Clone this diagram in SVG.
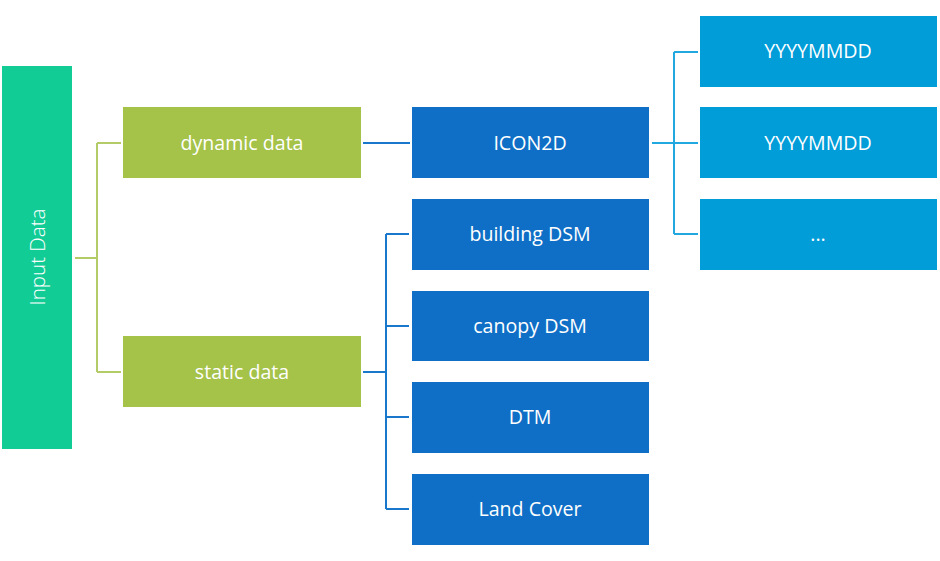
<svg xmlns="http://www.w3.org/2000/svg" width="940" height="561" viewBox="0 0 940 561">
<style>
.t{font-family:"Open Sans","Noto Sans","Liberation Sans",sans-serif;font-size:19.6px;fill:#fff;text-anchor:middle;dominant-baseline:central}
.lg{stroke:#B4CC68;stroke-width:2;fill:none}
.lb{stroke:#1A78CC;stroke-width:2;fill:none}
.lc{stroke:#22A8E0;stroke-width:2;fill:none}
.root{fill:#12CC96}
.g{fill:#A5C249}
.b{fill:#0F6FC6}
.c{fill:#009DD9}
</style>
<rect width="940" height="561" fill="#fff"/>
<g id="connectors">
<path class="lg" d="M75 258H97M97 143V372M97 143H121M97 372H121"/>
<path class="lb" d="M363 143H410"/>
<path class="lb" d="M363 372H386M386 234V509M386 234H409M386 326H409M386 417H409M386 509H409"/>
<path class="lc" d="M652 143H698M674 52V234M674 52H698M674 234H698"/>
</g>
<g id="input-data"><rect class="root" x="2" y="66" width="70" height="383"/><text class="t" transform="translate(37 257) rotate(-90)" style="font-weight:300;font-size:20.5px">Input Data</text></g>
<g id="dynamic-data"><rect class="g" x="123" y="107" width="238" height="71"/><text class="t" x="242" y="142">dynamic data</text></g>
<g id="static-data"><rect class="g" x="123" y="336" width="238" height="71"/><text class="t" x="242" y="371">static data</text></g>
<g id="icon2d"><rect class="b" x="412" y="107" width="237" height="71"/><text class="t" x="530" y="142">ICON2D</text></g>
<g id="building-dsm"><rect class="b" x="412" y="199" width="237" height="71"/><text class="t" x="530" y="233">building DSM</text></g>
<g id="canopy-dsm"><rect class="b" x="412" y="291" width="237" height="70"/><text class="t" x="530" y="325">canopy DSM</text></g>
<g id="dtm"><rect class="b" x="412" y="382" width="237" height="71"/><text class="t" x="530" y="416">DTM</text></g>
<g id="land-cover"><rect class="b" x="412" y="474" width="237" height="71"/><text class="t" x="530" y="508">Land Cover</text></g>
<g id="date1"><rect class="c" x="700" y="16" width="237" height="71"/><text class="t" x="818" y="50">YYYYMMDD</text></g>
<g id="date2"><rect class="c" x="700" y="107" width="237" height="71"/><text class="t" x="818" y="142">YYYYMMDD</text></g>
<g id="more"><rect class="c" x="700" y="199" width="237" height="71"/><text class="t" x="818" y="233">...</text></g>
</svg>
